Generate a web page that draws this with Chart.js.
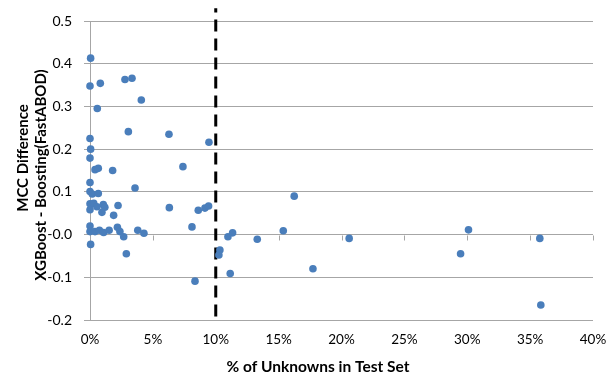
<!DOCTYPE html>
<html>
<head>
<meta charset="utf-8">
<script src="https://cdn.jsdelivr.net/npm/chart.js@4"></script>
<style>
  body{margin:0;background:#fff;}
</style>
</head>
<body>
<canvas id="myChart" width="611" height="378"></canvas>
<script>
// % of unknowns in the test set (x) and MCC difference (y)
var unknownPct=[0.05,0,0.82,2.78,3.34,4.08,0.58,3.05,6.28,0,9.46,0.05,0,0.4,0.66,1.8,7.39,
    0,0,0.18,0.66,3.58,0,0.3,0,0.55,1.06,1.18,0.95,2.23,1.88,6.31,8.61,9.14,9.43,8.11,
    0,0,0.4,0.75,1.08,1.52,2.18,2.38,2.68,3.8,4.29,0.05,2.89,10.97,11.34,13.3,10.33,10.25,
    8.35,11.15,16.24,15.37,20.61,17.73,30.1,29.47,35.77,35.85];
var mccDiff=[0.413,0.348,0.354,0.363,0.366,0.315,0.295,0.241,0.235,0.225,0.216,0.200,0.179,0.152,0.155,0.150,0.159,
    0.122,0.101,0.095,0.096,0.109,0.072,0.073,0.058,0.065,0.070,0.064,0.052,0.068,0.045,0.063,0.057,0.062,0.067,0.018,
    0.020,0.007,0.007,0.010,0.005,0.010,0.017,0.007,-0.005,0.010,0.003,-0.023,-0.045,-0.005,0.004,-0.011,-0.036,-0.048,
    -0.109,-0.091,0.090,0.009,-0.009,-0.080,0.011,-0.045,-0.009,-0.165];
// 10% cut-off line
var cutoffX=[10,10];
var cutoffY=[-0.192,0.53];

var xTicks=[0,5,10,15,20,25,30,35,40];
var xTitle='% of Unknowns in Test Set';
var yTitle=['MCC Difference','XGBoost - Boosting(FastABOD)'];

var points=[];
for(let i=0;i<unknownPct.length;i++){
    points.push({x:unknownPct[i],y:mccDiff[i]});
}
var cutoff=cutoffX.map((x,i)=>({x:x,y:cutoffY[i]}));

// x axis crosses at y=0 with its tick marks there, labels stay at the bottom
var zeroAxis={
    id:'zeroAxis',
    beforeDatasetsDraw(chart){
        var c=chart.ctx, xs=chart.scales.x, ys=chart.scales.y;
        var y0=Math.round(ys.getPixelForValue(0))+0.5;
        c.save();
        c.strokeStyle='#a6a6a6';
        c.lineWidth=1;
        c.beginPath();
        xTicks.forEach(t=>{
            var px=Math.round(xs.getPixelForValue(t))+0.5;
            c.moveTo(px,y0);c.lineTo(px,y0+5);
        });
        c.stroke();
        c.restore();
    }
};

// axis titles, placed like the excel original (not centred on the plot area)
var axisTitles={
    id:'axisTitles',
    afterDraw(chart){
        var c=chart.ctx;
        c.save();
        c.fillStyle='#000';
        c.font='bold 15.5px Lato';
        c.textAlign='center';
        c.textBaseline='middle';
        c.fillText(xTitle,318,367);
        c.font='bold 15px Lato';
        c.save();
        c.translate(23,158);
        c.rotate(-Math.PI/2);
        c.fillText(yTitle[0],0,0);
        c.restore();
        c.translate(41,175);
        c.rotate(-Math.PI/2);
        c.fillText(yTitle[1],0,0);
        c.restore();
    }
};

var ctx=document.getElementById('myChart').getContext('2d');
var myChart=new Chart(ctx,{
    type:'scatter',
    data:{
        datasets:[
        {
            data:points,
            backgroundColor:'#4a7ebb',
            borderColor:'#4a7ebb',
            borderWidth:0,
            pointRadius:3.8,
            clip:false,
            order:1
        },
        {
            data:cutoff,
            showLine:true,
            borderColor:'#000000',
            borderWidth:3,
            borderDash:[12,7],
            pointRadius:0,
            clip:false,
            order:2
        }
        ]
    },
    plugins:[zeroAxis,axisTitles],
    options:{
        responsive:false,
        animation:false,
        layout:{padding:{top:21,right:18,left:0,bottom:0}},
        plugins:{legend:{display:false},tooltip:{enabled:false}},
        scales:{
            x:{
                type:'linear',
                min:0,max:40,
                afterBuildTicks:s=>{s.ticks=xTicks.map(v=>({value:v}));},
                afterFit:s=>{s.height=58;s.paddingRight=0;s.paddingLeft=0;},
                grid:{display:false,drawTicks:false},
                border:{display:false},
                ticks:{
                    padding:12,
                    color:'#000',
                    font:{family:'Lato',size:13.5},
                    maxRotation:0,
                    callback:v=>v+'%'
                }
            },
            y:{
                min:-0.2,max:0.5,
                afterFit:s=>{s.width=90;},
                grid:{color:'#a6a6a6',tickLength:6,lineWidth:1},
                border:{color:'#a6a6a6'},
                ticks:{
                    stepSize:0.1,
                    padding:12,
                    color:'#000',
                    font:{family:'Lato',size:14},
                    callback:v=>v.toFixed(1)
                }
            }
        }
    }
});
</script>
</body>
</html>
